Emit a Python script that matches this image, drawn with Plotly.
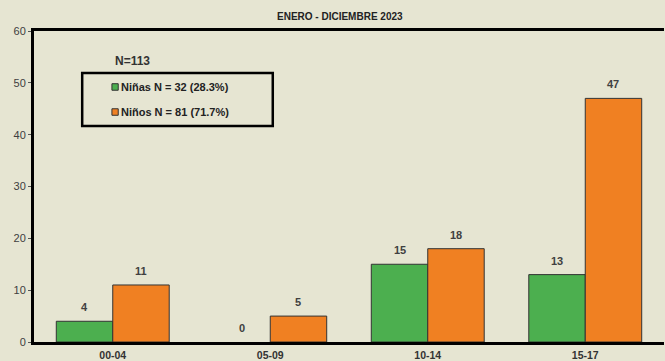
import plotly.graph_objects as go

categorias = ["00-04", "05-09", "10-14", "15-17"]
ninas = [4, 0, 15, 13]
ninos = [11, 5, 18, 47]
subtitulo = "ENERO - DICIEMBRE 2023"
total_txt = "N=113"
leyenda_ninas = "Niñas N = 32 (28.3%)"
leyenda_ninos = "Niños N = 81 (71.7%)"

VERDE = "#4CAF4F"
NARANJA = "#F08022"
FONDO = "#E6E5D2"
TXT = "#404040"
BARGAP = 0.283

fig = go.Figure()
for nombre, vals, col in [(leyenda_ninas, ninas, VERDE), (leyenda_ninos, ninos, NARANJA)]:
    fig.add_trace(go.Bar(
        x=categorias, y=vals, name=nombre,
        marker=dict(color=col, line=dict(color="#333333",
                                         width=[1 if v > 0 else 0 for v in vals])),
        showlegend=False, hoverinfo="skip",
    ))

# value labels above each bar
half = (1 - BARGAP) / 4
for k, (vals, sgn) in enumerate([(ninas, -1), (ninos, 1)]):
    for i, v in enumerate(vals):
        fig.add_annotation(x=i + sgn * half, y=v, xref="x", yref="y", text="<b>%d</b>" % v,
                           showarrow=False, yanchor="middle", yshift=14,
                           font=dict(family="Arial, Liberation Sans", size=11, color=TXT))

fig.update_layout(
    width=665, height=361,
    margin=dict(l=34, r=1, t=31, b=19, autoexpand=False),
    paper_bgcolor=FONDO, plot_bgcolor=FONDO,
    barmode="group", bargap=BARGAP, bargroupgap=0,
    font=dict(family="Arial, Liberation Sans", color=TXT),
    xaxis=dict(type="category", range=[-0.5, 3.5], showline=True, linecolor="black", linewidth=3,
               mirror=True, ticks="", showgrid=False, automargin=False, ticklabelstandoff=1,
               tickfont=dict(size=10.5, color="#333333", weight="bold")),
    yaxis=dict(range=[0, 60], dtick=10, showline=True, linecolor="black", linewidth=3,
               ticks="outside", ticklen=3, tickcolor="#555555", showgrid=False,
               zeroline=False, automargin=False, tickfont=dict(size=11, color=TXT)),
)

fig.add_annotation(text="<b>" + subtitulo + "</b>", xref="paper", yref="paper",
                   x=0.485, y=1.0, xanchor="center", yanchor="middle", yshift=15, showarrow=False,
                   font=dict(size=10, color="#222222"))
fig.add_annotation(text="<b>" + total_txt + "</b>", xref="paper", yref="paper",
                   x=0.1566, y=0.9035, xanchor="center", yanchor="middle", showarrow=False,
                   font=dict(size=12, color="#333333"))

# legend box (manual)
fig.add_shape(type="rect", xref="paper", yref="paper", x0=0.0765, x1=0.379,
              y0=0.6945, y1=0.865, line=dict(color="black", width=2.5))
for yc, col, txt in [(0.820, VERDE, leyenda_ninas), (0.7395, NARANJA, leyenda_ninos)]:
    fig.add_shape(type="rect", xref="paper", yref="paper",
                  x0=0.1287 - 0.005, x1=0.1287 + 0.005,
                  y0=yc - 0.0105, y1=yc + 0.0105,
                  fillcolor=col, line=dict(color="#333333", width=1))
    fig.add_annotation(text="<b>" + txt + "</b>", xref="paper", yref="paper",
                       x=0.1355, y=yc, xanchor="left", yanchor="middle", showarrow=False,
                       font=dict(size=11, color="#222222"))

fig.write_html("out.html", config={"displayModeBar": False},
               post_script="document.body.style.margin='0';document.body.style.overflow='hidden';")
